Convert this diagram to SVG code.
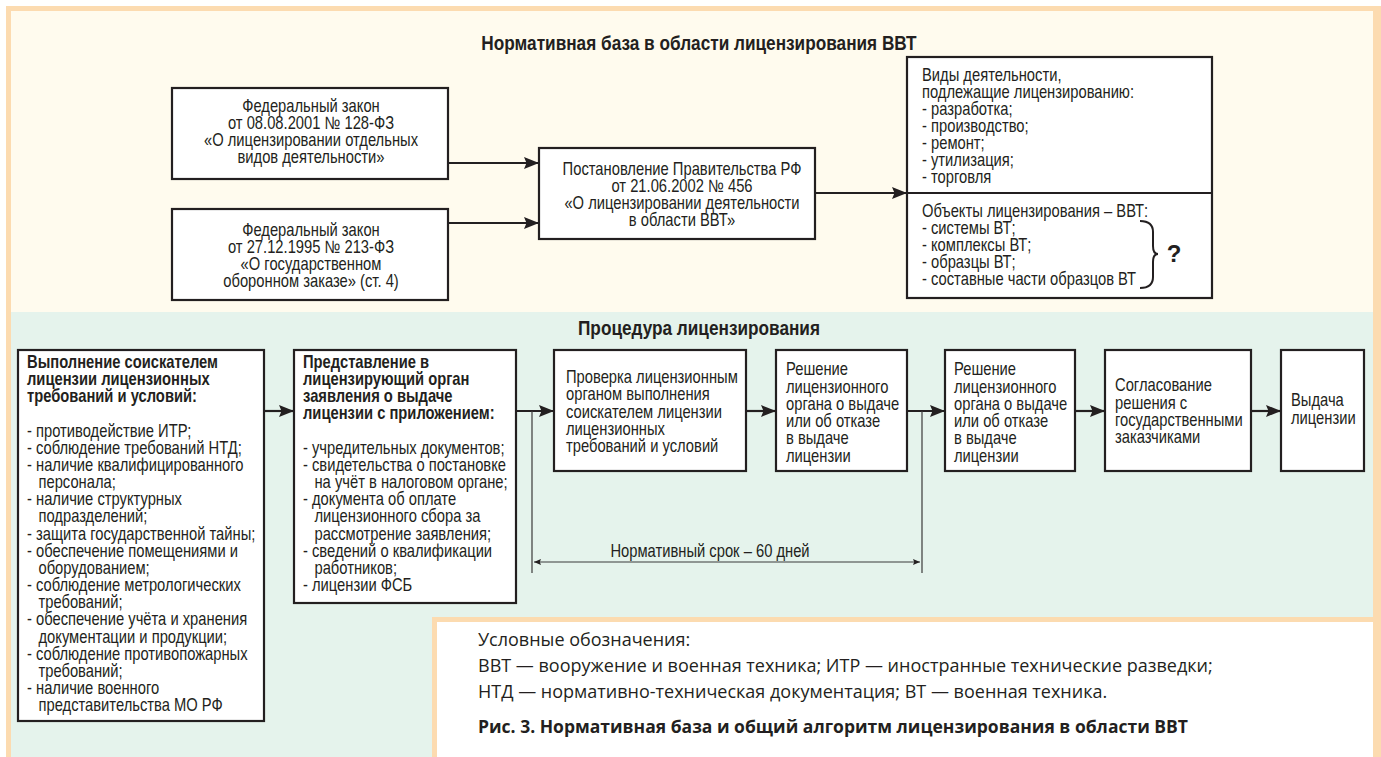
<svg xmlns="http://www.w3.org/2000/svg" width="1381" height="757" viewBox="0 0 1381 757">
<style>
.t{font-family:"Liberation Sans",Arial,sans-serif;font-size:18px;fill:#231f20}
.b{font-weight:bold}
.c{text-anchor:middle}
.h{font-size:21px;font-weight:bold}
.lg{font-family:"Open Sans","Noto Sans",sans-serif;font-size:18px;fill:#231f20}
.box{fill:#ffffff;stroke:#231f20;stroke-width:2.2}
.con{fill:none;stroke:#231f20;stroke-width:2.2}
.thin{fill:none;stroke:#3a3a3a;stroke-width:1.2}
</style>
<defs>
<marker id="ah" markerUnits="userSpaceOnUse" markerWidth="16" markerHeight="12" refX="15" refY="6" orient="auto">
<path d="M0,0 L15,6 L0,12 L2.5,6 Z" fill="#231f20"/>
</marker>
<marker id="sa" markerUnits="userSpaceOnUse" markerWidth="8" markerHeight="6" refX="7" refY="3" orient="auto-start-reverse">
<path d="M0,0 L7,3 L0,6 L1.2,3 Z" fill="#231f20"/>
</marker>
</defs>
<g id="background">
<rect x="0" y="0" width="1381" height="757" fill="#ffffff"/>
<rect x="6" y="6" width="1375" height="751" fill="#fcdbb0"/>
<rect x="11" y="11" width="1362" height="301" fill="#fffbee"/>
<rect x="11" y="312" width="1362" height="445" fill="#e5f3ec"/>
<rect x="432" y="617" width="941" height="140" fill="#fcdbb0"/>
<rect x="437" y="622" width="936" height="135" fill="#ffffff"/>
</g>
<g id="titles">
<g transform="matrix(0.82 0 0 1 699 0)"><text class="t h c" x="0" y="50">Нормативная база в области лицензирования ВВТ</text></g>
<g transform="matrix(0.82 0 0 1 699 0)"><text class="t h c" x="0" y="335">Процедура лицензирования</text></g>
</g>
<g id="connectors">
<path class="con" d="M448,163 H539" marker-end="url(#ah)"/>
<path class="con" d="M448,223 H539" marker-end="url(#ah)"/>
<path class="con" d="M815,193 H907" marker-end="url(#ah)"/>
<path class="con" d="M264,411 H294" marker-end="url(#ah)"/>
<path class="con" d="M516,411 H554" marker-end="url(#ah)"/>
<path class="con" d="M746,411 H776" marker-end="url(#ah)"/>
<path class="con" d="M907,411 H945" marker-end="url(#ah)"/>
<path class="con" d="M1075,411 H1105" marker-end="url(#ah)"/>
<path class="con" d="M1251,411 H1281" marker-end="url(#ah)"/>
<path class="thin" d="M532,411 V573"/>
<path class="thin" d="M922,411 V573"/>
<path class="thin" d="M534,562 H920" marker-start="url(#sa)" marker-end="url(#sa)"/>
<g transform="matrix(0.82 0 0 1 710 0)"><text class="t c" x="0" y="557">Нормативный срок – 60 дней</text></g>
</g>
<g id="nA">
<rect class="box" x="172" y="88" width="276" height="91"/>
<g transform="matrix(0.82 0 0 1 311 0)">
<text class="t c" x="0" y="111.7">Федеральный закон</text>
<text class="t c" x="0" y="128.7">от 08.08.2001 № 128-ФЗ</text>
<text class="t c" x="0" y="145.7">«О лицензировании отдельных</text>
<text class="t c" x="0" y="162.7">видов деятельности»</text>
</g>
</g>
<g id="nB">
<rect class="box" x="172" y="209" width="276" height="91"/>
<g transform="matrix(0.82 0 0 1 311 0)">
<text class="t c" x="0" y="235.7">Федеральный закон</text>
<text class="t c" x="0" y="252.7">от 27.12.1995 № 213-ФЗ</text>
<text class="t c" x="0" y="269.7">«О государственном</text>
<text class="t c" x="0" y="286.7">оборонном заказе» (ст. 4)</text>
</g>
</g>
<g id="nP">
<rect class="box" x="539" y="148" width="276" height="91"/>
<g transform="matrix(0.82 0 0 1 682 0)">
<text class="t c" x="0" y="175">Постановление Правительства РФ</text>
<text class="t c" x="0" y="192">от 21.06.2002 № 456</text>
<text class="t c" x="0" y="209">«О лицензировании деятельности</text>
<text class="t c" x="0" y="226">в области ВВТ»</text>
</g>
</g>
<g id="nR">
<rect class="box" x="907" y="57" width="305" height="241"/>
<path class="con" d="M907,193 H1212"/>
<g transform="matrix(0.82 0 0 1 922 0)">
<text class="t" x="0" y="81">Виды деятельности,</text>
<text class="t" x="0" y="98">подлежащие лицензированию:</text>
<text class="t" x="0" y="115">- разработка;</text>
<text class="t" x="0" y="132">- производство;</text>
<text class="t" x="0" y="149">- ремонт;</text>
<text class="t" x="0" y="166">- утилизация;</text>
<text class="t" x="0" y="183">- торговля</text>
<text class="t" x="0" y="217">Объекты лицензирования – ВВТ:</text>
<text class="t" x="0" y="234.1">- системы ВТ;</text>
<text class="t" x="0" y="251.2">- комплексы ВТ;</text>
<text class="t" x="0" y="268.3">- образцы ВТ;</text>
<text class="t" x="0" y="285.4">- составные части образцов ВТ</text>
</g>
<path d="M1140,221 Q1153,221 1153,232 L1153,246 Q1153,254 1158,254 Q1153,254 1153,262 L1153,277 Q1153,288 1140,288" fill="none" stroke="#231f20" stroke-width="2"/>
<text class="t b c" x="1174" y="262" style="font-size:24px">?</text>
</g>
<g id="n1">
<rect class="box" x="18" y="350" width="246" height="371"/>
<g transform="matrix(0.82 0 0 1 27 0)">
<text class="t b" x="0" y="368">Выполнение соискателем</text>
<text class="t b" x="0" y="385.2">лицензии лицензионных</text>
<text class="t b" x="0" y="402.4">требований и условий:</text>
<text class="t" x="0" y="436.8">- противодействие ИТР;</text>
<text class="t" x="0" y="454">- соблюдение требований НТД;</text>
<text class="t" x="0" y="471.1">- наличие квалифицированного</text>
<text class="t" x="14" y="488.2">персонала;</text>
<text class="t" x="0" y="505.4">- наличие структурных</text>
<text class="t" x="14" y="522.5">подразделений;</text>
<text class="t" x="0" y="539.7">- защита государственной тайны;</text>
<text class="t" x="0" y="556.8">- обеспечение помещениями и</text>
<text class="t" x="14" y="574">оборудованием;</text>
<text class="t" x="0" y="591.1">- соблюдение метрологических</text>
<text class="t" x="14" y="608.3">требований;</text>
<text class="t" x="0" y="625.4">- обеспечение учёта и хранения</text>
<text class="t" x="14" y="642.6">документации и продукции;</text>
<text class="t" x="0" y="659.7">- соблюдение противопожарных</text>
<text class="t" x="14" y="676.9">требований;</text>
<text class="t" x="0" y="694">- наличие военного</text>
<text class="t" x="14" y="711.2">представительства МО РФ</text>
</g>
</g>
<g id="n2">
<rect class="box" x="294" y="350" width="222" height="253"/>
<g transform="matrix(0.82 0 0 1 303 0)">
<text class="t b" x="0" y="368">Представление в</text>
<text class="t b" x="0" y="385.2">лицензирующий орган</text>
<text class="t b" x="0" y="402.4">заявления о выдаче</text>
<text class="t b" x="0" y="419.5">лицензии с приложением:</text>
<text class="t" x="0" y="453.8">- учредительных документов;</text>
<text class="t" x="0" y="471">- свидетельства о постановке</text>
<text class="t" x="14" y="488.1">на учёт в налоговом органе;</text>
<text class="t" x="0" y="505.3">- документа об оплате</text>
<text class="t" x="14" y="522.4">лицензионного сбора за</text>
<text class="t" x="14" y="539.6">рассмотрение заявления;</text>
<text class="t" x="0" y="556.7">- сведений о квалификации</text>
<text class="t" x="14" y="573.9">работников;</text>
<text class="t" x="0" y="591">- лицензии ФСБ</text>
</g>
</g>
<g id="n3">
<rect class="box" x="554" y="350" width="192" height="121"/>
<g transform="matrix(0.82 0 0 1 566 0)">
<text class="t" x="0" y="383.3">Проверка лицензионным</text>
<text class="t" x="0" y="400.5">органом выполнения</text>
<text class="t" x="0" y="417.8">соискателем лицензии</text>
<text class="t" x="0" y="435">лицензионных</text>
<text class="t" x="0" y="452.3">требований и условий</text>
</g>
</g>
<g id="n4">
<rect class="box" x="776" y="350" width="131" height="121"/>
<g transform="matrix(0.82 0 0 1 786 0)">
<text class="t" x="0" y="375.5">Решение</text>
<text class="t" x="0" y="392.7">лицензионного</text>
<text class="t" x="0" y="410">органа о выдаче</text>
<text class="t" x="0" y="427.2">или об отказе</text>
<text class="t" x="0" y="444.4">в выдаче</text>
<text class="t" x="0" y="461.6">лицензии</text>
</g>
</g>
<g id="n5">
<rect class="box" x="945" y="350" width="130" height="121"/>
<g transform="matrix(0.82 0 0 1 954 0)">
<text class="t" x="0" y="375.5">Решение</text>
<text class="t" x="0" y="392.7">лицензионного</text>
<text class="t" x="0" y="410">органа о выдаче</text>
<text class="t" x="0" y="427.2">или об отказе</text>
<text class="t" x="0" y="444.4">в выдаче</text>
<text class="t" x="0" y="461.6">лицензии</text>
</g>
</g>
<g id="n6">
<rect class="box" x="1105" y="350" width="146" height="121"/>
<g transform="matrix(0.82 0 0 1 1115 0)">
<text class="t" x="0" y="391.5">Согласование</text>
<text class="t" x="0" y="408.7">решения с</text>
<text class="t" x="0" y="426">государственными</text>
<text class="t" x="0" y="443.2">заказчиками</text>
</g>
</g>
<g id="n7">
<rect class="box" x="1281" y="350" width="83" height="121"/>
<g transform="matrix(0.82 0 0 1 1291 0)">
<text class="t" x="0" y="406.5">Выдача</text>
<text class="t" x="0" y="423.7">лицензии</text>
</g>
</g>
<g id="legend">
<text class="lg" x="478" y="646">Условные обозначения:</text>
<text class="lg" x="478" y="672">ВВТ — вооружение и военная техника; ИТР — иностранные технические разведки;</text>
<text class="lg" x="478" y="698">НТД — нормативно-техническая документация; ВТ — военная техника.</text>
<text class="lg" x="478" y="733" style="font-weight:bold;font-size:17.5px">Рис. 3. Нормативная база и общий алгоритм лицензирования в области ВВТ</text>
</g>
</svg>
